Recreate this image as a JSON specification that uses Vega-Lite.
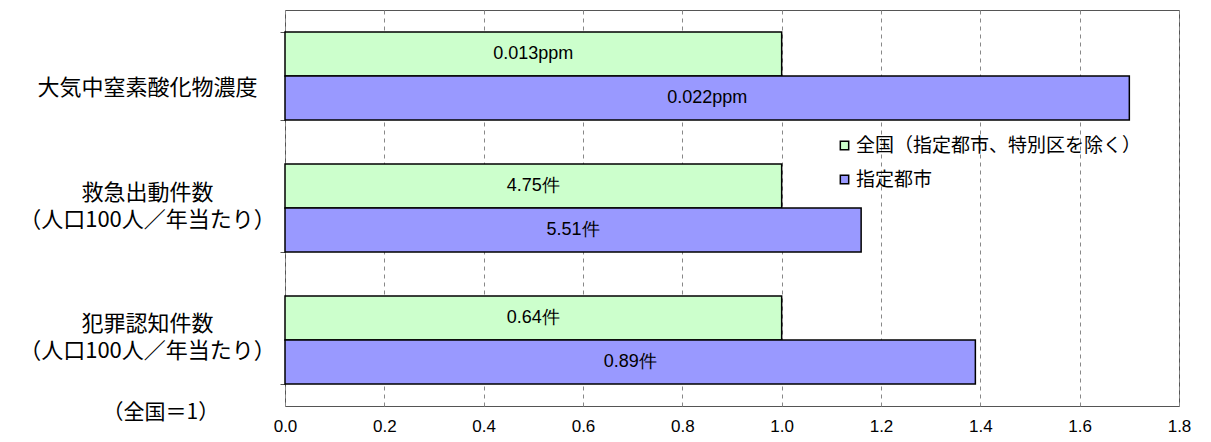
{
  "$schema": "https://vega.github.io/schema/vega-lite/v6.json",
  "width": 894,
  "height": 396,
  "autosize": {"type": "none"},
  "padding": {"left": 285, "top": 10, "right": 32, "bottom": 36},
  "background": "white",
  "config": {
    "view": {"stroke": "#555555", "strokeWidth": 1},
    "font": "Noto Sans CJK JP"
  },
  "data": {
    "values": [
      {"cat": "大気中窒素酸化物濃度", "series": "全国（指定都市、特別区を除く）", "ord": 1, "ratio": 1.0, "label": "0.013ppm"},
      {"cat": "大気中窒素酸化物濃度", "series": "指定都市", "ord": 2, "ratio": 1.70, "label": "0.022ppm"},
      {"cat": "救急出動件数\n（人口100人／年当たり）", "series": "全国（指定都市、特別区を除く）", "ord": 1, "ratio": 1.0, "label": "4.75件"},
      {"cat": "救急出動件数\n（人口100人／年当たり）", "series": "指定都市", "ord": 2, "ratio": 1.16, "label": "5.51件"},
      {"cat": "犯罪認知件数\n（人口100人／年当たり）", "series": "全国（指定都市、特別区を除く）", "ord": 1, "ratio": 1.0, "label": "0.64件"},
      {"cat": "犯罪認知件数\n（人口100人／年当たり）", "series": "指定都市", "ord": 2, "ratio": 1.39, "label": "0.89件"}
    ]
  },
  "encoding": {
    "y": {
      "field": "cat",
      "type": "nominal",
      "sort": null,
      "scale": {"paddingInner": 0.3333, "paddingOuter": 0.1667},
      "axis": {
        "title": null,
        "labelExpr": "length(split(datum.label, '\\n')) > 1 ? split(datum.label, '\\n') : ['　', datum.label]",
        "labelFont": "Noto Sans CJK JP",
        "labelFontSize": 22,
        "labelColor": "#000000",
        "labelAlign": "center",
        "labelPadding": 133,
        "labelLineHeight": 27,
        "labelLimit": 400,
        "labelOffset": -16,
        "tickBand": "extent",
        "tickSize": 5,
        "tickColor": "#555555",
        "domain": false,
        "grid": false
      }
    },
    "yOffset": {"field": "series", "type": "nominal", "sort": {"field": "ord"}}
  },
  "layer": [
    {
      "mark": {"type": "bar", "stroke": "#000000", "strokeWidth": 1.5},
      "encoding": {
        "x": {
          "field": "ratio",
          "type": "quantitative",
          "scale": {"domain": [0, 1.8], "nice": false},
          "axis": {
            "values": [0, 0.2, 0.4, 0.6, 0.8, 1.0, 1.2, 1.4, 1.6, 1.8],
            "format": ".1f",
            "labelFont": "Liberation Sans",
            "labelFontSize": 17,
            "labelColor": "#000000",
            "labelPadding": 12,
            "labelFlush": false,
            "ticks": false,
            "domain": false,
            "grid": true,
            "gridDash": [4, 4],
            "gridColor": "#888888",
            "gridWidth": 1,
            "title": "（全国＝1）",
            "titleFont": "Noto Sans CJK JP",
            "titleFontSize": 21,
            "titleFontWeight": "normal",
            "titleColor": "#000000",
            "titleAnchor": "start",
            "titleAlign": "left",
            "titleBaseline": "middle",
            "titleX": -183,
            "titleY": 6
          }
        },
        "color": {
          "field": "series",
          "type": "nominal",
          "sort": {"field": "ord"},
          "scale": {"range": ["#CCFFCC", "#9999FF"]},
          "legend": {
            "title": null,
            "orient": "none",
            "legendX": 550,
            "legendY": 126,
            "symbolType": "square",
            "symbolSize": 70,
            "symbolStrokeColor": "#000000",
            "symbolStrokeWidth": 1.5,
            "labelFont": "Noto Sans CJK JP",
            "labelFontSize": 19,
            "labelColor": "#000000",
            "labelOffset": 2,
            "rowPadding": 14,
            "labelLimit": 400
          }
        }
      }
    },
    {
      "mark": {"type": "text", "font": "Liberation Sans", "fontSize": 18, "color": "#000000", "baseline": "middle", "align": "center"},
      "encoding": {
        "x": {"field": "ratio", "type": "quantitative", "scale": {"domain": [0, 3.6], "nice": false}, "axis": null},
        "text": {"field": "label"}
      }
    }
  ],
  "resolve": {"scale": {"x": "independent"}}
}
